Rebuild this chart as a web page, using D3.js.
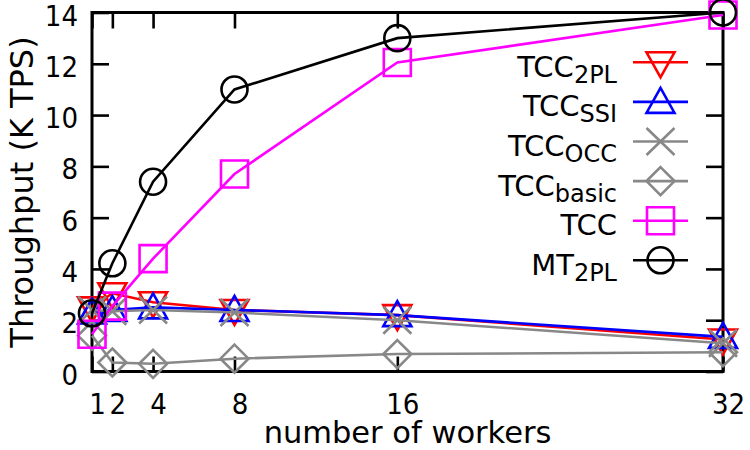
<!DOCTYPE html>
<html>
<head>
<meta charset="utf-8">
<script src="https://cdn.jsdelivr.net/npm/d3@7"></script>
<style>
  body { margin: 0; background: #fff; }
  svg { display: block; }
</style>
</head>
<body>
<svg id="chart" width="750" height="450"></svg>
<script>
// values
const workers = [1, 2, 4, 8, 16, 32];
const tcc2pl = [2.5, 3.05, 2.7, 2.4, 2.2, 1.25];
const tccSsi = [2.3, 2.4, 2.5, 2.4, 2.2, 1.35];
const tccOcc = [2.4, 2.35, 2.4, 2.3, 2.0, 1.1];
const tccBasic = [1.4, 0.35, 0.3, 0.5, 0.68, 0.75];
const tccAll = [1.45, 2.55, 4.4, 7.7, 12.05, 13.9];
const mt2pl = [2.27, 4.22, 7.4, 11.0, 13.0, 14.0];
const yTicks = [0, 2, 4, 6, 8, 10, 12, 14];

const series = [
    {main: "TCC", sub: "2PL", values: tcc2pl, color: "#ff0000", shape: "tridown"},
    {main: "TCC", sub: "SSI", values: tccSsi, color: "#0000ff", shape: "triup"},
    {main: "TCC", sub: "OCC", values: tccOcc, color: "#888888", shape: "cross"},
    {main: "TCC", sub: "basic", values: tccBasic, color: "#888888", shape: "diamond"},
    {main: "TCC", sub: "", values: tccAll, color: "#ff00ff", shape: "square"},
    {main: "MT", sub: "2PL", values: mt2pl, color: "#000000", shape: "circle"}
];

const margin = {top: 12.5, right: 27, bottom: 78.5, left: 92};
const width = 750 - margin.left - margin.right,
    height = 450 - margin.top - margin.bottom;

const svg = d3.select("#chart");
const g = svg.append("g").attr("transform", `translate(${margin.left},${margin.top})`);

const x = d3.scaleLinear().domain([1, 32]).range([0, width]);
const y = d3.scaleLinear().domain([0, 14]).range([height, 0]);

const shapes = {
    tridown: "M-14,-10L14,-10L0,15Z",
    triup: "M-14,11L14,11L0,-14Z",
    cross: "M-14,-13.5L14,13.5M-14,13.5L14,-13.5",
    diamond: "M0,-14L14,0L0,14L-14,0Z",
    square: "M-13.5,-13.5H13.5V13.5H-13.5Z"
};

const drawMarker = (sel, s) => {
    if (s.shape === "circle") {
        sel.append("circle").attr("r", 13);
    } else {
        sel.append("path").attr("d", shapes[s.shape]);
    }
    sel.attr("fill", "none").attr("stroke", s.color).attr("stroke-width", 2.6);
};

// ticks (inward, mirrored)
const tickStyle = (sel) => {
    sel.select(".domain").remove();
    sel.selectAll("line").attr("stroke", "#000").attr("stroke-width", 2.6);
};

g.append("g")
    .attr("transform", `translate(0,${height})`)
    .call(d3.axisBottom(x).tickValues(workers).tickSize(-15).tickSizeOuter(0).tickFormat(d3.format("d")))
    .call(tickStyle)
    .call(a => a.selectAll("text")
        .attr("y", 42.5).attr("dy", 0).attr("dx", 5)
        .attr("fill", "#000")
        .style("font-family", "'DejaVu Sans Condensed', 'DejaVu Sans', sans-serif")
        .style("font-size", "29px"));

g.append("g")
    .call(d3.axisTop(x).tickValues(workers).tickSize(-16).tickSizeOuter(0).tickFormat(""))
    .call(tickStyle);

g.append("g")
    .call(d3.axisLeft(y).tickValues(yTicks).tickSize(-17).tickSizeOuter(0).tickPadding(14))
    .call(tickStyle)
    .call(a => a.selectAll("text")
        .attr("dy", 12.5).attr("fill", "#000")
        .style("font-family", "'DejaVu Sans Condensed', 'DejaVu Sans', sans-serif")
        .style("font-size", "29px"));

g.append("g")
    .attr("transform", `translate(${width},0)`)
    .call(d3.axisRight(y).tickValues(yTicks).tickSize(-17).tickSizeOuter(0).tickFormat(""))
    .call(tickStyle);

// frame
g.append("rect")
    .attr("width", width).attr("height", height)
    .attr("fill", "none").attr("stroke", "#000").attr("stroke-width", 3);

// series
const line = d3.line().x((d, i) => x(workers[i])).y(d => y(d));

series.forEach(s => {
    const sg = g.append("g");
    sg.append("path")
        .attr("d", line(s.values))
        .attr("fill", "none")
        .attr("stroke", s.color)
        .attr("stroke-width", 2.6);
    s.values.forEach((v, i) => {
        sg.append("g")
            .attr("transform", `translate(${x(workers[i])},${y(v)})`)
            .call(m => drawMarker(m, s));
    });
});

// legend
const legend = svg.append("g").attr("transform", "translate(617,62.3)");
series.forEach((s, i) => {
    const row = legend.append("g").attr("transform", `translate(0,${i * 39.6})`);
    const t = row.append("text")
        .attr("x", 0).attr("y", 14.5)
        .attr("text-anchor", "end")
        .style("font-family", "'DejaVu Sans', sans-serif")
        .style("font-size", "29px")
        .attr("fill", "#000");
    t.append("tspan").text(s.main);
    if (s.sub) {
        t.append("tspan").attr("dy", 6).style("font-size", "24px").text(s.sub);
    }
    row.append("line")
        .attr("x1", 16).attr("x2", 71)
        .attr("stroke", s.color).attr("stroke-width", 2.6);
    row.append("g").attr("transform", "translate(43.5,0)").call(m => drawMarker(m, s));
});

// axis titles
svg.append("text")
    .attr("x", margin.left + width / 2).attr("y", 443)
    .attr("text-anchor", "middle")
    .style("font-family", "'DejaVu Sans', sans-serif")
    .style("font-size", "30.5px")
    .text("number of workers");

svg.append("text")
    .attr("transform", `translate(33,${margin.top + height / 2}) rotate(-90)`)
    .attr("text-anchor", "middle")
    .style("font-family", "'DejaVu Sans', sans-serif")
    .style("font-size", "32px")
    .text("Throughput (K TPS)");
</script>
</body>
</html>
